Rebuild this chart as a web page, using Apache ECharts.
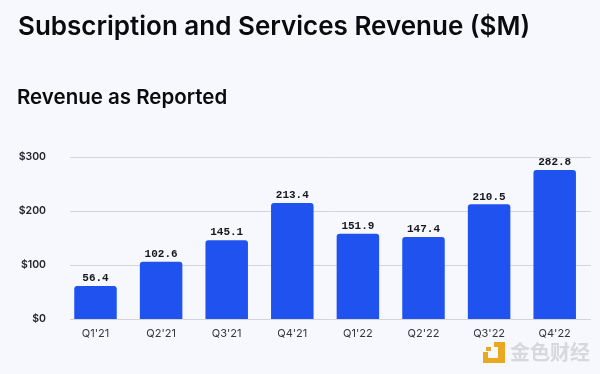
<!DOCTYPE html>
<html><head><meta charset="utf-8">
<style>html,body{margin:0;padding:0;background:#f7f8fd}#c{width:600px;height:374px}</style>
<script src="https://cdn.jsdelivr.net/npm/echarts@6/dist/echarts.min.js"></script>
</head><body><div id="c"></div>
<script>
const categories = ["Q1'21","Q2'21","Q3'21","Q4'21","Q1'22","Q2'22","Q3'22","Q4'22"];
// Value printed above each bar in the picture
const printedValues = ["56.4","102.6","145.1","213.4","151.9","147.4","210.5","282.8"];
// Bar height as drawn in the picture, read against the y axis
const drawnHeights = [61,106,146,215,158,152,212.5,276];
const titleText = "Subscription and Services Revenue ($M)";
const subtitleText = "Revenue as Reported";
const font = "Inter, 'Noto Sans', sans-serif";
const chart = echarts.init(document.getElementById('c'), null, {renderer:'canvas'});
chart.setOption({
  animation:false,
  backgroundColor:'#f7f8fd',
  title:[
    {text:titleText,left:13,top:9,textStyle:{fontFamily:font,fontSize:26,fontWeight:600,color:'#0a0b0d'}},
    {text:subtitleText,left:12,top:82,textStyle:{fontFamily:font,fontSize:20.5,fontWeight:600,color:'#0a0b0d'}}
  ],
  grid:[
    {left:70,right:9,top:157,height:162},
    {left:62.7,width:524.8,top:157,height:162}
  ],
  xAxis:[
    {gridIndex:0,type:'category',data:categories,show:false},
    {gridIndex:1,type:'category',data:categories,
     axisLine:{show:false},axisTick:{show:false},
     axisLabel:{interval:0,margin:9,fontFamily:font,fontSize:11,color:'#33363d'}}
  ],
  yAxis:[
    {gridIndex:0,type:'value',min:0,max:300,interval:100,
     axisLine:{show:false},axisTick:{show:false},
     axisLabel:{formatter:v=>'$'+v,margin:24,fontFamily:font,fontSize:10.5,fontWeight:600,color:'#22252b'},
     splitLine:{lineStyle:{color:'#d3d5da',width:1}}},
    {gridIndex:1,type:'value',min:0,max:300,interval:100,show:false,splitLine:{show:false}}
  ],
  series:[{
    type:'bar',xAxisIndex:1,yAxisIndex:1,data:drawnHeights,barWidth:42.5,
    itemStyle:{color:'#1f52ee',borderRadius:[3,3,0,0]},
    label:{show:true,position:'top',distance:2,fontFamily:"'Liberation Mono','DejaVu Sans Mono',monospace",
      fontSize:11,fontWeight:700,color:'#15171a',formatter:p=>printedValues[p.dataIndex]}
  }],
  graphic:[
    {type:'group',left:483,top:342,children:[
      {type:'polygon',shape:{points:[[11,0],[22,0],[22,21],[0,21],[0,10],[5,10],[5,16],[15,16],[15,5],[11,5]]},style:{fill:'#eaa720'}},
      {type:'rect',shape:{x:3,y:5,width:5,height:4},style:{fill:'#eaa720'}}
    ]},
    {type:'text',left:510,top:342,style:{text:'金色财经',font:"600 20px 'Noto Sans CJK SC'",fill:'#d6d8dc'}}
  ]
});
</script></body></html>
